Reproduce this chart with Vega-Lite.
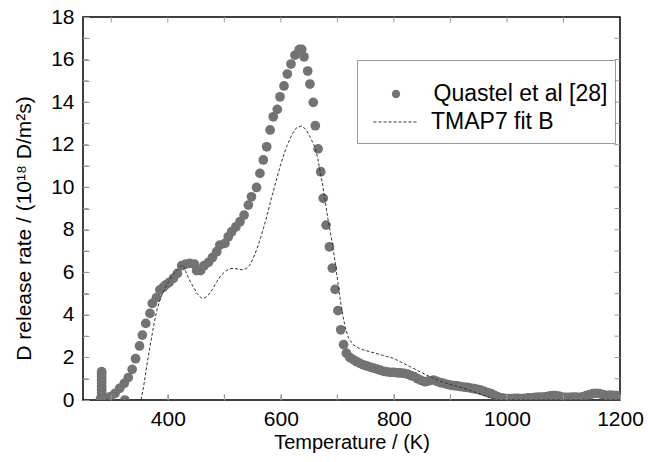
{
  "$schema": "https://vega.github.io/schema/vega-lite/v6.json",
  "width": 537,
  "height": 383,
  "autosize": {"type": "none"},
  "padding": {"left": 83, "top": 17, "right": 28, "bottom": 62},
  "background": "white",
  "config": {
    "view": {"stroke": "black", "strokeWidth": 1.5},
    "font": "Liberation Sans",
    "axis": {"ticks": true, "tickColor": "#999999", "tickWidth": 1}
  },
  "resolve": {"axis": {"x": "independent", "y": "independent"}},
  "datasets": {
    "pts": [
      {"T": 281, "v": 0.05, "series": "Quastel et al [28]"},
      {"T": 283, "v": 0.2, "series": "Quastel et al [28]"},
      {"T": 283, "v": 0.35, "series": "Quastel et al [28]"},
      {"T": 283, "v": 0.5, "series": "Quastel et al [28]"},
      {"T": 283, "v": 0.65, "series": "Quastel et al [28]"},
      {"T": 283, "v": 0.8, "series": "Quastel et al [28]"},
      {"T": 283, "v": 0.95, "series": "Quastel et al [28]"},
      {"T": 283, "v": 1.1, "series": "Quastel et al [28]"},
      {"T": 283, "v": 1.25, "series": "Quastel et al [28]"},
      {"T": 283, "v": 1.33, "series": "Quastel et al [28]"},
      {"T": 286, "v": 0.05, "series": "Quastel et al [28]"},
      {"T": 291, "v": 0.05, "series": "Quastel et al [28]"},
      {"T": 298, "v": 0.15, "series": "Quastel et al [28]"},
      {"T": 306.6, "v": 0.31, "series": "Quastel et al [28]"},
      {"T": 315, "v": 0.55, "series": "Quastel et al [28]"},
      {"T": 323, "v": 0.78, "series": "Quastel et al [28]"},
      {"T": 324, "v": 0.0, "series": "Quastel et al [28]"},
      {"T": 330, "v": 1.05, "series": "Quastel et al [28]"},
      {"T": 337, "v": 1.44, "series": "Quastel et al [28]"},
      {"T": 343, "v": 1.94, "series": "Quastel et al [28]"},
      {"T": 350, "v": 2.54, "series": "Quastel et al [28]"},
      {"T": 355, "v": 3.05, "series": "Quastel et al [28]"},
      {"T": 361, "v": 3.6, "series": "Quastel et al [28]"},
      {"T": 368.5, "v": 4.07, "series": "Quastel et al [28]"},
      {"T": 372.6, "v": 4.54, "series": "Quastel et al [28]"},
      {"T": 380, "v": 4.81, "series": "Quastel et al [28]"},
      {"T": 386, "v": 5.17, "series": "Quastel et al [28]"},
      {"T": 392, "v": 5.3, "series": "Quastel et al [28]"},
      {"T": 397, "v": 5.42, "series": "Quastel et al [28]"},
      {"T": 402.7, "v": 5.53, "series": "Quastel et al [28]"},
      {"T": 410, "v": 5.72, "series": "Quastel et al [28]"},
      {"T": 417, "v": 5.95, "series": "Quastel et al [28]"},
      {"T": 424.6, "v": 6.31, "series": "Quastel et al [28]"},
      {"T": 432, "v": 6.39, "series": "Quastel et al [28]"},
      {"T": 439, "v": 6.42, "series": "Quastel et al [28]"},
      {"T": 447, "v": 6.38, "series": "Quastel et al [28]"},
      {"T": 451, "v": 6.08, "series": "Quastel et al [28]"},
      {"T": 458, "v": 6.08, "series": "Quastel et al [28]"},
      {"T": 464, "v": 6.31, "series": "Quastel et al [28]"},
      {"T": 472, "v": 6.47, "series": "Quastel et al [28]"},
      {"T": 479, "v": 6.7, "series": "Quastel et al [28]"},
      {"T": 486.5, "v": 6.97, "series": "Quastel et al [28]"},
      {"T": 492, "v": 7.28, "series": "Quastel et al [28]"},
      {"T": 501, "v": 7.36, "series": "Quastel et al [28]"},
      {"T": 507, "v": 7.67, "series": "Quastel et al [28]"},
      {"T": 513, "v": 7.91, "series": "Quastel et al [28]"},
      {"T": 520.6, "v": 8.14, "series": "Quastel et al [28]"},
      {"T": 527.7, "v": 8.38, "series": "Quastel et al [28]"},
      {"T": 535, "v": 8.69, "series": "Quastel et al [28]"},
      {"T": 542.5, "v": 9.16, "series": "Quastel et al [28]"},
      {"T": 548, "v": 9.55, "series": "Quastel et al [28]"},
      {"T": 557, "v": 9.99, "series": "Quastel et al [28]"},
      {"T": 563, "v": 10.65, "series": "Quastel et al [28]"},
      {"T": 569, "v": 11.28, "series": "Quastel et al [28]"},
      {"T": 575, "v": 11.9, "series": "Quastel et al [28]"},
      {"T": 581, "v": 12.69, "series": "Quastel et al [28]"},
      {"T": 586.6, "v": 13.31, "series": "Quastel et al [28]"},
      {"T": 593.7, "v": 13.66, "series": "Quastel et al [28]"},
      {"T": 598.5, "v": 14.25, "series": "Quastel et al [28]"},
      {"T": 605.6, "v": 14.76, "series": "Quastel et al [28]"},
      {"T": 611.5, "v": 15.32, "series": "Quastel et al [28]"},
      {"T": 618, "v": 15.79, "series": "Quastel et al [28]"},
      {"T": 625, "v": 16.21, "series": "Quastel et al [28]"},
      {"T": 632.6, "v": 16.48, "series": "Quastel et al [28]"},
      {"T": 637, "v": 16.48, "series": "Quastel et al [28]"},
      {"T": 641, "v": 16.13, "series": "Quastel et al [28]"},
      {"T": 647.5, "v": 15.46, "series": "Quastel et al [28]"},
      {"T": 651.5, "v": 14.85, "series": "Quastel et al [28]"},
      {"T": 657.4, "v": 13.99, "series": "Quastel et al [28]"},
      {"T": 661, "v": 12.89, "series": "Quastel et al [28]"},
      {"T": 666, "v": 11.8, "series": "Quastel et al [28]"},
      {"T": 670.5, "v": 10.73, "series": "Quastel et al [28]"},
      {"T": 675, "v": 9.48, "series": "Quastel et al [28]"},
      {"T": 680, "v": 8.22, "series": "Quastel et al [28]"},
      {"T": 686, "v": 7.2, "series": "Quastel et al [28]"},
      {"T": 691, "v": 6.2, "series": "Quastel et al [28]"},
      {"T": 696, "v": 5.2, "series": "Quastel et al [28]"},
      {"T": 701, "v": 4.2, "series": "Quastel et al [28]"},
      {"T": 706, "v": 3.3, "series": "Quastel et al [28]"},
      {"T": 711, "v": 2.6, "series": "Quastel et al [28]"},
      {"T": 716, "v": 2.2, "series": "Quastel et al [28]"},
      {"T": 722, "v": 2.0, "series": "Quastel et al [28]"},
      {"T": 728, "v": 1.9, "series": "Quastel et al [28]"},
      {"T": 734, "v": 1.8, "series": "Quastel et al [28]"},
      {"T": 740, "v": 1.72, "series": "Quastel et al [28]"},
      {"T": 746, "v": 1.65, "series": "Quastel et al [28]"},
      {"T": 752, "v": 1.6, "series": "Quastel et al [28]"},
      {"T": 758, "v": 1.55, "series": "Quastel et al [28]"},
      {"T": 764, "v": 1.5, "series": "Quastel et al [28]"},
      {"T": 770, "v": 1.45, "series": "Quastel et al [28]"},
      {"T": 776, "v": 1.4, "series": "Quastel et al [28]"},
      {"T": 782, "v": 1.35, "series": "Quastel et al [28]"},
      {"T": 788, "v": 1.32, "series": "Quastel et al [28]"},
      {"T": 794, "v": 1.3, "series": "Quastel et al [28]"},
      {"T": 800, "v": 1.3, "series": "Quastel et al [28]"},
      {"T": 806, "v": 1.28, "series": "Quastel et al [28]"},
      {"T": 812, "v": 1.27, "series": "Quastel et al [28]"},
      {"T": 818, "v": 1.25, "series": "Quastel et al [28]"},
      {"T": 824, "v": 1.22, "series": "Quastel et al [28]"},
      {"T": 830, "v": 1.15, "series": "Quastel et al [28]"},
      {"T": 836, "v": 1.1, "series": "Quastel et al [28]"},
      {"T": 842, "v": 1.0, "series": "Quastel et al [28]"},
      {"T": 848, "v": 0.92, "series": "Quastel et al [28]"},
      {"T": 855, "v": 0.86, "series": "Quastel et al [28]"},
      {"T": 862, "v": 0.9, "series": "Quastel et al [28]"},
      {"T": 870, "v": 0.94, "series": "Quastel et al [28]"},
      {"T": 876, "v": 0.88, "series": "Quastel et al [28]"},
      {"T": 882, "v": 0.82, "series": "Quastel et al [28]"},
      {"T": 888, "v": 0.78, "series": "Quastel et al [28]"},
      {"T": 894, "v": 0.74, "series": "Quastel et al [28]"},
      {"T": 900, "v": 0.7, "series": "Quastel et al [28]"},
      {"T": 906, "v": 0.68, "series": "Quastel et al [28]"},
      {"T": 912, "v": 0.66, "series": "Quastel et al [28]"},
      {"T": 918, "v": 0.63, "series": "Quastel et al [28]"},
      {"T": 924, "v": 0.61, "series": "Quastel et al [28]"},
      {"T": 930, "v": 0.59, "series": "Quastel et al [28]"},
      {"T": 936, "v": 0.56, "series": "Quastel et al [28]"},
      {"T": 942, "v": 0.53, "series": "Quastel et al [28]"},
      {"T": 948, "v": 0.5, "series": "Quastel et al [28]"},
      {"T": 954, "v": 0.46, "series": "Quastel et al [28]"},
      {"T": 960, "v": 0.4, "series": "Quastel et al [28]"},
      {"T": 966, "v": 0.35, "series": "Quastel et al [28]"},
      {"T": 972, "v": 0.3, "series": "Quastel et al [28]"},
      {"T": 978, "v": 0.22, "series": "Quastel et al [28]"},
      {"T": 984, "v": 0.15, "series": "Quastel et al [28]"},
      {"T": 990, "v": 0.1, "series": "Quastel et al [28]"},
      {"T": 996, "v": 0.08, "series": "Quastel et al [28]"},
      {"T": 1002, "v": 0.07, "series": "Quastel et al [28]"},
      {"T": 1008, "v": 0.07, "series": "Quastel et al [28]"},
      {"T": 1014, "v": 0.08, "series": "Quastel et al [28]"},
      {"T": 1020, "v": 0.08, "series": "Quastel et al [28]"},
      {"T": 1026, "v": 0.07, "series": "Quastel et al [28]"},
      {"T": 1032, "v": 0.08, "series": "Quastel et al [28]"},
      {"T": 1038, "v": 0.1, "series": "Quastel et al [28]"},
      {"T": 1044, "v": 0.1, "series": "Quastel et al [28]"},
      {"T": 1050, "v": 0.12, "series": "Quastel et al [28]"},
      {"T": 1056, "v": 0.14, "series": "Quastel et al [28]"},
      {"T": 1062, "v": 0.14, "series": "Quastel et al [28]"},
      {"T": 1068, "v": 0.15, "series": "Quastel et al [28]"},
      {"T": 1074, "v": 0.18, "series": "Quastel et al [28]"},
      {"T": 1080, "v": 0.2, "series": "Quastel et al [28]"},
      {"T": 1086, "v": 0.2, "series": "Quastel et al [28]"},
      {"T": 1092, "v": 0.18, "series": "Quastel et al [28]"},
      {"T": 1098, "v": 0.14, "series": "Quastel et al [28]"},
      {"T": 1104, "v": 0.12, "series": "Quastel et al [28]"},
      {"T": 1110, "v": 0.12, "series": "Quastel et al [28]"},
      {"T": 1116, "v": 0.13, "series": "Quastel et al [28]"},
      {"T": 1122, "v": 0.14, "series": "Quastel et al [28]"},
      {"T": 1128, "v": 0.12, "series": "Quastel et al [28]"},
      {"T": 1134, "v": 0.15, "series": "Quastel et al [28]"},
      {"T": 1140, "v": 0.2, "series": "Quastel et al [28]"},
      {"T": 1146, "v": 0.25, "series": "Quastel et al [28]"},
      {"T": 1152, "v": 0.3, "series": "Quastel et al [28]"},
      {"T": 1158, "v": 0.31, "series": "Quastel et al [28]"},
      {"T": 1164, "v": 0.3, "series": "Quastel et al [28]"},
      {"T": 1170, "v": 0.25, "series": "Quastel et al [28]"},
      {"T": 1176, "v": 0.22, "series": "Quastel et al [28]"},
      {"T": 1182, "v": 0.23, "series": "Quastel et al [28]"},
      {"T": 1188, "v": 0.22, "series": "Quastel et al [28]"},
      {"T": 1194, "v": 0.2, "series": "Quastel et al [28]"},
      {"T": 1200, "v": 0.2, "series": "Quastel et al [28]"}
    ],
    "fit": [
      {"T": 290, "v": 0, "series": "TMAP7 fit B"},
      {"T": 350, "v": 0, "series": "TMAP7 fit B"},
      {"T": 353, "v": 0.05, "series": "TMAP7 fit B"},
      {"T": 357, "v": 0.6, "series": "TMAP7 fit B"},
      {"T": 360, "v": 1.1, "series": "TMAP7 fit B"},
      {"T": 364, "v": 1.8, "series": "TMAP7 fit B"},
      {"T": 368.5, "v": 2.5, "series": "TMAP7 fit B"},
      {"T": 373, "v": 3.2, "series": "TMAP7 fit B"},
      {"T": 377, "v": 3.76, "series": "TMAP7 fit B"},
      {"T": 381, "v": 4.25, "series": "TMAP7 fit B"},
      {"T": 386, "v": 4.7, "series": "TMAP7 fit B"},
      {"T": 393, "v": 5.15, "series": "TMAP7 fit B"},
      {"T": 401, "v": 5.56, "series": "TMAP7 fit B"},
      {"T": 408, "v": 5.85, "series": "TMAP7 fit B"},
      {"T": 415.6, "v": 6.1, "series": "TMAP7 fit B"},
      {"T": 424.6, "v": 6.34, "series": "TMAP7 fit B"},
      {"T": 429, "v": 6.25, "series": "TMAP7 fit B"},
      {"T": 433, "v": 5.95, "series": "TMAP7 fit B"},
      {"T": 439, "v": 5.6, "series": "TMAP7 fit B"},
      {"T": 445, "v": 5.32, "series": "TMAP7 fit B"},
      {"T": 452, "v": 5.0, "series": "TMAP7 fit B"},
      {"T": 460, "v": 4.78, "series": "TMAP7 fit B"},
      {"T": 466, "v": 4.8, "series": "TMAP7 fit B"},
      {"T": 471.6, "v": 4.93, "series": "TMAP7 fit B"},
      {"T": 479, "v": 5.2, "series": "TMAP7 fit B"},
      {"T": 486.5, "v": 5.56, "series": "TMAP7 fit B"},
      {"T": 494, "v": 5.85, "series": "TMAP7 fit B"},
      {"T": 501, "v": 6.03, "series": "TMAP7 fit B"},
      {"T": 508, "v": 6.15, "series": "TMAP7 fit B"},
      {"T": 516, "v": 6.19, "series": "TMAP7 fit B"},
      {"T": 525, "v": 6.15, "series": "TMAP7 fit B"},
      {"T": 533.6, "v": 6.11, "series": "TMAP7 fit B"},
      {"T": 540, "v": 6.2, "series": "TMAP7 fit B"},
      {"T": 545, "v": 6.34, "series": "TMAP7 fit B"},
      {"T": 551, "v": 6.65, "series": "TMAP7 fit B"},
      {"T": 557, "v": 7.05, "series": "TMAP7 fit B"},
      {"T": 563, "v": 7.52, "series": "TMAP7 fit B"},
      {"T": 569, "v": 8.05, "series": "TMAP7 fit B"},
      {"T": 575, "v": 8.61, "series": "TMAP7 fit B"},
      {"T": 583, "v": 9.45, "series": "TMAP7 fit B"},
      {"T": 592, "v": 10.34, "series": "TMAP7 fit B"},
      {"T": 600, "v": 11.1, "series": "TMAP7 fit B"},
      {"T": 610, "v": 11.9, "series": "TMAP7 fit B"},
      {"T": 620, "v": 12.5, "series": "TMAP7 fit B"},
      {"T": 628, "v": 12.8, "series": "TMAP7 fit B"},
      {"T": 637, "v": 12.88, "series": "TMAP7 fit B"},
      {"T": 645, "v": 12.7, "series": "TMAP7 fit B"},
      {"T": 652, "v": 12.35, "series": "TMAP7 fit B"},
      {"T": 660, "v": 11.9, "series": "TMAP7 fit B"},
      {"T": 665, "v": 11.4, "series": "TMAP7 fit B"},
      {"T": 669, "v": 10.8, "series": "TMAP7 fit B"},
      {"T": 674, "v": 10.1, "series": "TMAP7 fit B"},
      {"T": 678, "v": 9.4, "series": "TMAP7 fit B"},
      {"T": 684, "v": 8.4, "series": "TMAP7 fit B"},
      {"T": 690, "v": 7.52, "series": "TMAP7 fit B"},
      {"T": 696, "v": 6.5, "series": "TMAP7 fit B"},
      {"T": 702, "v": 5.3, "series": "TMAP7 fit B"},
      {"T": 708, "v": 4.2, "series": "TMAP7 fit B"},
      {"T": 714, "v": 3.4, "series": "TMAP7 fit B"},
      {"T": 720, "v": 2.9, "series": "TMAP7 fit B"},
      {"T": 728, "v": 2.6, "series": "TMAP7 fit B"},
      {"T": 740, "v": 2.4, "series": "TMAP7 fit B"},
      {"T": 760, "v": 2.25, "series": "TMAP7 fit B"},
      {"T": 780, "v": 2.1, "series": "TMAP7 fit B"},
      {"T": 800, "v": 1.95, "series": "TMAP7 fit B"},
      {"T": 811, "v": 1.8, "series": "TMAP7 fit B"},
      {"T": 830, "v": 1.55, "series": "TMAP7 fit B"},
      {"T": 858, "v": 1.17, "series": "TMAP7 fit B"},
      {"T": 880, "v": 0.9, "series": "TMAP7 fit B"},
      {"T": 910, "v": 0.65, "series": "TMAP7 fit B"},
      {"T": 935, "v": 0.45, "series": "TMAP7 fit B"},
      {"T": 958, "v": 0.23, "series": "TMAP7 fit B"},
      {"T": 982, "v": 0.0, "series": "TMAP7 fit B"},
      {"T": 1200, "v": 0.0, "series": "TMAP7 fit B"}
    ],
    "xticks": [
      {"T": 300, "v": 0}, {"T": 400, "v": 0}, {"T": 500, "v": 0}, {"T": 600, "v": 0}, {"T": 700, "v": 0},
      {"T": 800, "v": 0}, {"T": 900, "v": 0}, {"T": 1000, "v": 0}, {"T": 1100, "v": 0},
      {"T": 300, "v": 18}, {"T": 400, "v": 18}, {"T": 500, "v": 18}, {"T": 600, "v": 18}, {"T": 700, "v": 18},
      {"T": 800, "v": 18}, {"T": 900, "v": 18}, {"T": 1000, "v": 18}, {"T": 1100, "v": 18}
    ],
    "yticks": [
      {"T": 250, "v": 1}, {"T": 250, "v": 2}, {"T": 250, "v": 3}, {"T": 250, "v": 4}, {"T": 250, "v": 5},
      {"T": 250, "v": 6}, {"T": 250, "v": 7}, {"T": 250, "v": 8}, {"T": 250, "v": 9}, {"T": 250, "v": 10},
      {"T": 250, "v": 11}, {"T": 250, "v": 12}, {"T": 250, "v": 13}, {"T": 250, "v": 14}, {"T": 250, "v": 15},
      {"T": 250, "v": 16}, {"T": 250, "v": 17},
      {"T": 1200, "v": 1}, {"T": 1200, "v": 2}, {"T": 1200, "v": 3}, {"T": 1200, "v": 4}, {"T": 1200, "v": 5},
      {"T": 1200, "v": 6}, {"T": 1200, "v": 7}, {"T": 1200, "v": 8}, {"T": 1200, "v": 9}, {"T": 1200, "v": 10},
      {"T": 1200, "v": 11}, {"T": 1200, "v": 12}, {"T": 1200, "v": 13}, {"T": 1200, "v": 14}, {"T": 1200, "v": 15},
      {"T": 1200, "v": 16}, {"T": 1200, "v": 17}
    ]
  },
  "layer": [
    {
      "data": {"name": "pts"},
      "mark": {"type": "point", "filled": true, "size": 95, "opacity": 1, "clip": true},
      "encoding": {
        "x": {
          "field": "T", "type": "quantitative",
          "scale": {"domain": [250, 1200], "nice": false, "zero": false},
          "axis": {
            "offset": -6,
            "title": "Temperature / (K)",
            "titleFont": "Liberation Sans", "titleFontSize": 20, "titleFontWeight": "normal", "titleColor": "black", "titlePadding": 3,
            "values": [300, 400, 500, 600, 700, 800, 900, 1000, 1100, 1200],
            "labelExpr": "datum.value % 200 === 0 ? datum.label : ''",
            "format": "d",
            "labelFont": "Liberation Sans", "labelFontSize": 21, "labelColor": "black", "labelPadding": 8,
            "labelFlush": false, "labelOverlap": false,
            "tickSize": 6,
            "domain": false, "grid": false
          }
        },
        "y": {
          "field": "v", "type": "quantitative",
          "scale": {"domain": [0, 18], "nice": false},
          "axis": {
            "offset": -6,
            "title": "D release rate / (10¹⁸ D/m²s)",
            "titleFont": "Liberation Sans", "titleFontSize": 21, "titleFontWeight": "normal", "titleColor": "black",
            "titleX": -55, "titleY": 211, "titleAngle": -90, "titleBaseline": "bottom", "titleAlign": "center",
            "values": [0,1,2,3,4,5,6,7,8,9,10,11,12,13,14,15,16,17,18],
            "labelExpr": "datum.value % 2 === 0 ? datum.label : ''",
            "labelFont": "Liberation Sans", "labelFontSize": 21, "labelColor": "black", "labelPadding": 9,
            "labelFlush": false, "labelOverlap": false,
            "tickSize": 6,
            "domain": false, "grid": false
          }
        },
        "fill": {
          "datum": "Quastel et al [28]", "type": "nominal",
          "scale": {"domain": ["Quastel et al [28]", "pad"], "range": ["#737373", "transparent"]},
          "legend": {
            "orient": "none", "legendX": 274, "legendY": 43,
            "title": " ", "titleFontSize": 10, "titlePadding": 5,
            "padding": 7.5,
            "strokeColor": "#999", "fillColor": null,
            "symbolSize": 70, "symbolOffset": 20, "labelOffset": 26, "rowPadding": 5,
            "labelExpr": "datum.value === 'pad' ? '' : datum.label",
            "labelFont": "Liberation Sans", "labelFontSize": 23, "labelColor": "black", "labelLimit": 400
          }
        }
      }
    },
    {
      "data": {"name": "fit"},
      "mark": {"type": "line", "strokeWidth": 1, "stroke": "#333333", "clip": true},
      "encoding": {
        "x": {"field": "T", "type": "quantitative", "axis": null},
        "y": {"field": "v", "type": "quantitative", "axis": null},
        "strokeDash": {
          "datum": "TMAP7 fit B", "type": "nominal",
          "scale": {"domain": ["TMAP7 fit B"], "range": [[3, 2]]},
          "legend": {
            "orient": "none", "legendX": 290, "legendY": 82,
            "title": null, "padding": 0,
            "strokeColor": null, "fillColor": null,
            "symbolSize": 2025, "symbolOffset": 0, "labelOffset": 12, "symbolStrokeWidth": 1,
            "labelFont": "Liberation Sans", "labelFontSize": 23, "labelColor": "black", "labelLimit": 400
          }
        }
      }
    },
    {
      "data": {"name": "xticks"},
      "mark": {"type": "tick", "orient": "vertical", "size": 11, "thickness": 1, "color": "#999999", "opacity": 1, "clip": true},
      "encoding": {
        "x": {"field": "T", "type": "quantitative", "axis": null},
        "y": {"field": "v", "type": "quantitative", "axis": null}
      }
    },
    {
      "data": {"name": "yticks"},
      "mark": {"type": "tick", "orient": "horizontal", "size": 11, "thickness": 1, "color": "#999999", "opacity": 1, "clip": true},
      "encoding": {
        "x": {"field": "T", "type": "quantitative", "axis": null},
        "y": {"field": "v", "type": "quantitative", "axis": null}
      }
    }
  ]
}
